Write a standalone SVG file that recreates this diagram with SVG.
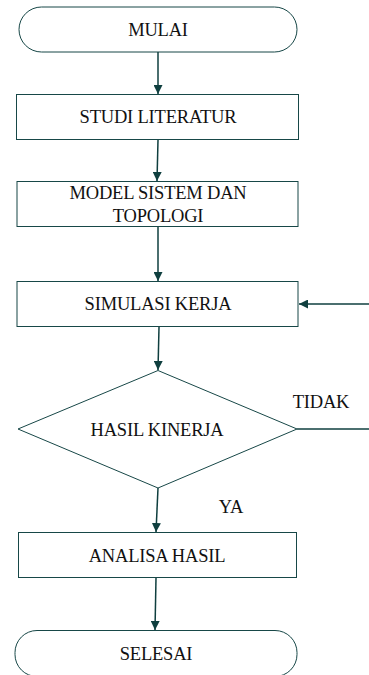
<svg xmlns="http://www.w3.org/2000/svg" width="369" height="675" viewBox="0 0 369 675">
<style>
.n{fill:#fff;stroke:#174747;stroke-width:1}
.c{fill:none;stroke:#0f3f3f;stroke-width:1.5}
.t{font-family:Liberation Serif,serif;font-size:18.5px;fill:#111;text-anchor:middle;letter-spacing:-0.2px}
</style>
<defs>
<marker id="ah" viewBox="0 0 10 10" refX="10" refY="5" markerWidth="9" markerHeight="9" markerUnits="userSpaceOnUse" orient="auto">
<path d="M0,0 L10,5 L0,10 Z" fill="#0f3f3f"/>
</marker>
</defs>
<rect width="369" height="675" fill="#fff"/>
<g id="mulai"><rect class="n" x="19" y="7" width="278" height="45" rx="22.5"/><text class="t" x="158" y="36">MULAI</text></g>
<g id="studi"><rect class="n" x="16.5" y="94.5" width="282" height="45"/><text class="t" x="158" y="123">STUDI LITERATUR</text></g>
<g id="model"><rect class="n" x="17" y="181.5" width="281" height="45"/><text class="t" x="158" y="199">MODEL SISTEM DAN</text><text class="t" x="158" y="222">TOPOLOGI</text></g>
<g id="simulasi"><rect class="n" x="17" y="281.5" width="281" height="45"/><text class="t" x="158" y="310">SIMULASI KERJA</text></g>
<g id="hasil"><polygon class="n" points="158,370.5 297,429 158,488 18,429"/><text class="t" x="157" y="436">HASIL KINERJA</text></g>
<g id="analisa"><rect class="n" x="18.5" y="532.5" width="278" height="45"/><text class="t" x="157" y="562">ANALISA HASIL</text></g>
<g id="selesai"><rect class="n" x="15" y="630.5" width="282" height="46" rx="22"/><text class="t" x="156" y="660">SELESAI</text></g>
<g id="connectors">
<line class="c" x1="158" y1="52" x2="158" y2="94" marker-end="url(#ah)"/>
<line class="c" x1="158" y1="140" x2="157" y2="181" marker-end="url(#ah)"/>
<line class="c" x1="158" y1="227" x2="158" y2="281" marker-end="url(#ah)"/>
<line class="c" x1="369" y1="304" x2="299" y2="304" marker-end="url(#ah)"/>
<line class="c" x1="159" y1="327" x2="158" y2="370" marker-end="url(#ah)"/>
<line class="c" x1="297" y1="429" x2="369" y2="429"/>
<line class="c" x1="158" y1="488" x2="156" y2="532" marker-end="url(#ah)"/>
<line class="c" x1="156" y1="578" x2="155" y2="630" marker-end="url(#ah)"/>
<text class="t" x="321" y="408">TIDAK</text>
<text class="t" x="231" y="513">YA</text>
</g>
</svg>
